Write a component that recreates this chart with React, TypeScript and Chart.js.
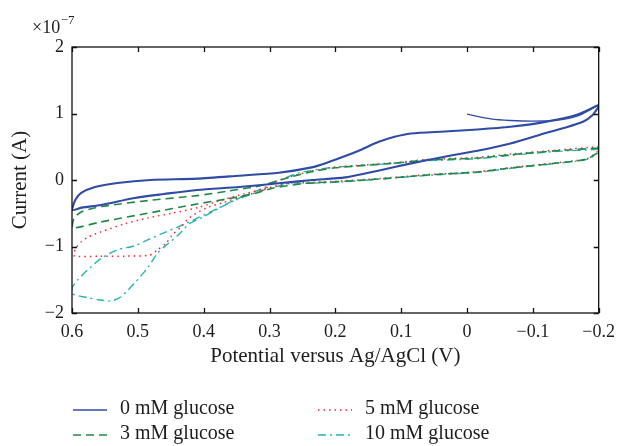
import React, { useEffect, useRef } from "react";
import { Chart, registerables } from "chart.js";

Chart.register(...registerables);

// Potential (V) tick values and current tick values (units of 1e-7 A)
const xTickValues = [0.6, 0.5, 0.4, 0.3, 0.2, 0.1, 0, -0.1, -0.2];
const yTickValues = [-2, -1, 0, 1, 2];
const yExponent = "−7";

const seriesLabels = ["0 mM glucose", "3 mM glucose", "5 mM glucose", "10 mM glucose"];

// [potential V, current ×1e-7 A]
const glucose0: [number, number][] = [
  [0.0, 0.99], [-0.036, 0.92], [-0.066, 0.895], [-0.1, 0.885], [-0.133, 0.895], [-0.167, 0.96], [-0.2, 1.13],
  [-0.167, 0.98], [-0.117, 0.87], [-0.066, 0.8], [-0.016, 0.76], [0.034, 0.73], [0.085, 0.7], [0.11, 0.65],
  [0.135, 0.57], [0.16, 0.46], [0.185, 0.36], [0.21, 0.27], [0.236, 0.19], [0.286, 0.11], [0.346, 0.065],
  [0.41, 0.02], [0.481, 0.0], [0.531, -0.045], [0.565, -0.105], [0.586, -0.195], [0.595, -0.3], [0.6, -0.45],
  [0.585, -0.415], [0.556, -0.375], [0.505, -0.27], [0.46, -0.21], [0.41, -0.15], [0.346, -0.105],
  [0.286, -0.05], [0.235, 0.0], [0.185, 0.04], [0.135, 0.14], [0.085, 0.25], [0.034, 0.35], [-0.016, 0.44],
  [-0.066, 0.55], [-0.117, 0.7], [-0.15, 0.79], [-0.177, 0.88], [-0.19, 0.97], [-0.2, 1.1],
];
const glucose0InitialPoints = 6;

const glucose3: [number, number][] = [
  [-0.2, 0.48], [-0.137, 0.44], [-0.066, 0.38], [-0.016, 0.33], [0.06, 0.3], [0.109, 0.255], [0.203, 0.18],
  [0.238, 0.12], [0.268, 0.045], [0.294, -0.03], [0.321, -0.1], [0.362, -0.165], [0.41, -0.235],
  [0.485, -0.31], [0.556, -0.4], [0.586, -0.48], [0.597, -0.58], [0.6, -0.72],
  [0.556, -0.63], [0.485, -0.5], [0.41, -0.36], [0.362, -0.28], [0.321, -0.2], [0.294, -0.12],
  [0.244, -0.05], [0.203, -0.03], [0.135, 0.015], [0.06, 0.075], [-0.016, 0.12], [-0.066, 0.18],
  [-0.137, 0.255], [-0.182, 0.315], [-0.2, 0.42],
];

const glucose5: [number, number][] = [
  [-0.2, 0.5], [-0.137, 0.45], [-0.066, 0.39], [-0.016, 0.34], [0.06, 0.31], [0.109, 0.26], [0.203, 0.19],
  [0.238, 0.13], [0.268, 0.05], [0.294, -0.04], [0.309, -0.15], [0.339, -0.24], [0.372, -0.345],
  [0.396, -0.42], [0.422, -0.57], [0.435, -0.71], [0.448, -0.83], [0.457, -0.95], [0.47, -1.05],
  [0.482, -1.13], [0.52, -1.145], [0.558, -1.145], [0.597, -1.14], [0.594, -1.02], [0.586, -0.93],
  [0.576, -0.86], [0.556, -0.78], [0.52, -0.66], [0.485, -0.57], [0.448, -0.5], [0.407, -0.41],
  [0.372, -0.3], [0.339, -0.21], [0.309, -0.135], [0.268, -0.045], [0.244, -0.04], [0.203, -0.02],
  [0.135, 0.02], [0.06, 0.08], [-0.016, 0.125], [-0.066, 0.185], [-0.137, 0.26], [-0.182, 0.32], [-0.2, 0.44],
];

const glucose10: [number, number][] = [
  [-0.2, 0.46], [-0.137, 0.43], [-0.066, 0.37], [-0.016, 0.32], [0.06, 0.29], [0.109, 0.25], [0.203, 0.19],
  [0.238, 0.14], [0.256, 0.105], [0.291, -0.03], [0.309, -0.12], [0.339, -0.24], [0.372, -0.4],
  [0.402, -0.56], [0.422, -0.66], [0.44, -0.84], [0.457, -0.98], [0.47, -1.1], [0.485, -1.32],
  [0.505, -1.55], [0.526, -1.76], [0.541, -1.82], [0.56, -1.8], [0.576, -1.77], [0.6, -1.71], [0.6, -1.62],
  [0.591, -1.5], [0.576, -1.35], [0.556, -1.18], [0.531, -1.05], [0.505, -0.99], [0.485, -0.9],
  [0.457, -0.78], [0.426, -0.65], [0.407, -0.56], [0.377, -0.42], [0.362, -0.345], [0.339, -0.255],
  [0.309, -0.15], [0.268, -0.05], [0.244, -0.05], [0.203, -0.035], [0.135, 0.01], [0.06, 0.07],
  [-0.016, 0.115], [-0.066, 0.175], [-0.137, 0.25], [-0.182, 0.31], [-0.2, 0.4],
];

const FONT = "'Liberation Serif', 'Times New Roman', serif";
const TEXT = "#1e1c1d";

const fmtTick = (v: number) => {
  const r = Math.round(v * 10) / 10;
  if (r === 0) return "0";
  const s = Math.abs(r) % 1 === 0 ? Math.abs(r).toFixed(0) : Math.abs(r).toFixed(1);
  return r < 0 ? "−" + s : s;
};

const toPts = (arr: [number, number][]) => arr.map(([x, y]) => ({ x, y }));

const decorPlugin = {
  id: "decor",
  afterDraw(chart: any) {
    const { ctx, chartArea } = chart;
    const { left, right, top, bottom } = chartArea;
    const xs = chart.scales.x;
    const ys = chart.scales.y;
    ctx.save();
    // frame
    ctx.strokeStyle = "#111";
    ctx.lineWidth = 1.3;
    ctx.setLineDash([]);
    ctx.strokeRect(left, top, right - left, bottom - top);
    // inward ticks
    const tl = 5;
    ctx.beginPath();
    xTickValues.forEach((v) => {
      const px = Math.round(xs.getPixelForValue(v)) + 0.5;
      ctx.moveTo(px, bottom);
      ctx.lineTo(px, bottom - tl);
      ctx.moveTo(px, top);
      ctx.lineTo(px, top + tl);
    });
    yTickValues.forEach((v) => {
      const py = Math.round(ys.getPixelForValue(v)) + 0.5;
      ctx.moveTo(left, py);
      ctx.lineTo(left + tl, py);
      ctx.moveTo(right, py);
      ctx.lineTo(right - tl, py);
    });
    ctx.stroke();

    ctx.fillStyle = TEXT;
    // exponent label
    ctx.font = `18px ${FONT}`;
    ctx.textAlign = "left";
    ctx.textBaseline = "alphabetic";
    ctx.fillText("×10", 32, 33);
    const w = ctx.measureText("×10").width;
    ctx.font = `13px ${FONT}`;
    ctx.fillText(yExponent, 32 + w + 0.5, 24);

    // x title
    ctx.font = `21px ${FONT}`;
    ctx.textAlign = "center";
    ctx.textBaseline = "middle";
    ctx.fillText("Potential versus Ag/AgCl (V)", (left + right) / 2, 356);

    // y title
    ctx.save();
    ctx.translate(20, (top + bottom) / 2);
    ctx.rotate(-Math.PI / 2);
    ctx.fillText("Current (A)", 0, 0);
    ctx.restore();

    // legend
    const legendPos = [
      { x: 73, y: 410 },
      { x: 73, y: 435 },
      { x: 318, y: 410 },
      { x: 318, y: 435 },
    ];
    const order = [0, 1, 2, 3];
    order.forEach((di, i) => {
      const ds = chart.data.datasets[di];
      const p = legendPos[i];
      ctx.strokeStyle = ds.borderColor;
      ctx.lineWidth = di === 0 ? 1.4 : ds.borderWidth;
      ctx.setLineDash(ds.borderDash || []);
      ctx.beginPath();
      ctx.moveTo(p.x, p.y);
      ctx.lineTo(p.x + 34, p.y);
      ctx.stroke();
      ctx.setLineDash([]);
      ctx.fillStyle = TEXT;
      ctx.font = `20px ${FONT}`;
      ctx.textAlign = "left";
      ctx.textBaseline = "middle";
      ctx.fillText(seriesLabels[di], p.x + 47, p.y - 1);
    });
    ctx.restore();
  },
};

export default function App() {
  const ref = useRef<HTMLCanvasElement | null>(null);
  useEffect(() => {
    if (!ref.current) return;
    const chart = new Chart(ref.current, {
      type: "scatter",
      data: {
        datasets: [
          {
            label: seriesLabels[0],
            data: toPts(glucose0),
            showLine: true,
            borderColor: "#2f4ba6",
            borderWidth: 2.1,
            pointRadius: 0,
            tension: 0.25,
            segment: {
              borderWidth: (c: any) => (c.p0DataIndex < glucose0InitialPoints ? 1.3 : 2.1),
            },
          },
          {
            label: seriesLabels[1],
            data: toPts(glucose3),
            showLine: true,
            borderColor: "#1f8a45",
            borderWidth: 1.6,
            borderDash: [8, 5],
            pointRadius: 0,
            tension: 0.25,
          },
          {
            label: seriesLabels[2],
            data: toPts(glucose5),
            showLine: true,
            borderColor: "#f42a2a",
            borderWidth: 1.5,
            borderDash: [1.5, 4],
            pointRadius: 0,
            tension: 0.25,
          },
          {
            label: seriesLabels[3],
            data: toPts(glucose10),
            showLine: true,
            borderColor: "#25b3b5",
            borderWidth: 1.4,
            borderDash: [8, 4, 2, 4],
            pointRadius: 0,
            tension: 0.25,
          },
        ],
      },
      options: {
        responsive: false,
        animation: false,
        devicePixelRatio: 1,
        layout: { padding: { left: 0, right: 21, top: 47, bottom: 0 } },
        plugins: { legend: { display: false }, tooltip: { enabled: false } },
        scales: {
          x: {
            type: "linear",
            min: -0.2,
            max: 0.6,
            reverse: true,
            grid: { display: false, drawTicks: false },
            border: { display: false },
            afterBuildTicks: (s: any) => {
              s.ticks = xTickValues.map((v) => ({ value: v }));
            },
            afterFit: (s: any) => {
              s.height = 133;
            },
            ticks: {
              autoSkip: false,
              maxRotation: 0,
              padding: 8,
              color: TEXT,
              font: { family: FONT, size: 18 },
              callback: (v: any) => fmtTick(Number(v)),
            },
          },
          y: {
            type: "linear",
            min: -2,
            max: 2,
            grid: { display: false, drawTicks: false },
            border: { display: false },
            afterBuildTicks: (s: any) => {
              s.ticks = yTickValues.map((v) => ({ value: v }));
            },
            afterFit: (s: any) => {
              s.width = 72;
            },
            ticks: {
              autoSkip: false,
              padding: 8,
              color: TEXT,
              font: { family: FONT, size: 18 },
              callback: (v: any) => fmtTick(Number(v)),
            },
          },
        },
      },
      plugins: [decorPlugin],
    } as any);
    return () => chart.destroy();
  }, []);
  return (
    <div style={{ position: "fixed", left: 0, top: 0, width: 623, height: 446, background: "#fff" }}>
      <canvas ref={ref} width={623} height={446} />
    </div>
  );
}
